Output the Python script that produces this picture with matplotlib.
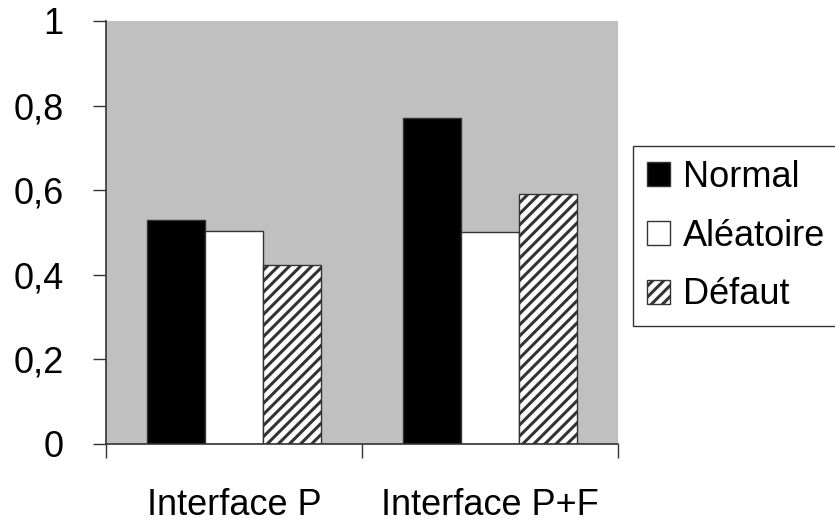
"""Bar chart: Normal / Aléatoire / Défaut per interface."""

import matplotlib
matplotlib.use("Agg")
import matplotlib.pyplot as plt
import numpy as np

categories = ["Interface P", "Interface P+F"]
series_names = ["Normal", "Aléatoire", "Défaut"]
normal = [0.53, 0.771]
aleatoire = [0.504, 0.501]
defaut = [0.422, 0.59]
y_ticks = [0, 0.2, 0.4, 0.6, 0.8, 1]
y_tick_labels = ["0", "0,2", "0,4", "0,6", "0,8", "1"]

plt.rcParams["font.family"] = ["Liberation Sans", "DejaVu Sans"]
plt.rcParams["hatch.linewidth"] = 2.2

fig = plt.figure(figsize=(8.35, 5.25), dpi=100)
ax = fig.add_axes([0.127, 0.1543, 0.613, 0.8057])
ax.set_facecolor("#c0c0c0")

x = np.arange(1, len(categories) + 1)
width = 0.226
styles = [
    dict(color="black", hatch=None),
    dict(color="white", hatch=None),
    dict(color="white", hatch="///"),
]
for i, (name, vals, st) in enumerate(zip(series_names, [normal, aleatoire, defaut], styles)):
    ax.bar(x + (i - 1) * width, vals, width, label=name, facecolor=st["color"],
           edgecolor="#333333", linewidth=1.0, hatch=st["hatch"])

ax.set_xlim(0.5, 2.5)
ax.set_ylim(0, 1)
ax.set_yticks(y_ticks)
ax.set_yticklabels(y_tick_labels, fontsize=26)
ax.tick_params(axis="y", length=9.5, width=1, color="#333333", pad=21)

# boundaries get ticks, category centres get the labels
ax.set_xticks([0.5, 1.5, 2.5])
ax.set_xticklabels(["", "", ""])
ax.tick_params(axis="x", which="major", length=10, width=1, color="#333333", direction="out")
ax.set_xticks(x, minor=True)
ax.set_xticklabels(categories, minor=True, fontsize=26)
ax.tick_params(axis="x", which="minor", length=0, pad=32)

for side in ["top", "right"]:
    ax.spines[side].set_visible(False)
for side in ["left", "bottom"]:
    ax.spines[side].set_color("#333333")
    ax.spines[side].set_linewidth(1.2)

leg = ax.legend(loc="upper left", bbox_to_anchor=(0.758, 0.722), bbox_transform=fig.transFigure,
                borderaxespad=0, fontsize=26, fancybox=False, frameon=True, edgecolor="black",
                handlelength=0.65, handleheight=0.65, handletextpad=0.36, labelspacing=0.66,
                borderpad=0.38)
leg.get_frame().set_linewidth(1.0)

fig.savefig("out.png", dpi=100)
plt.close(fig)
